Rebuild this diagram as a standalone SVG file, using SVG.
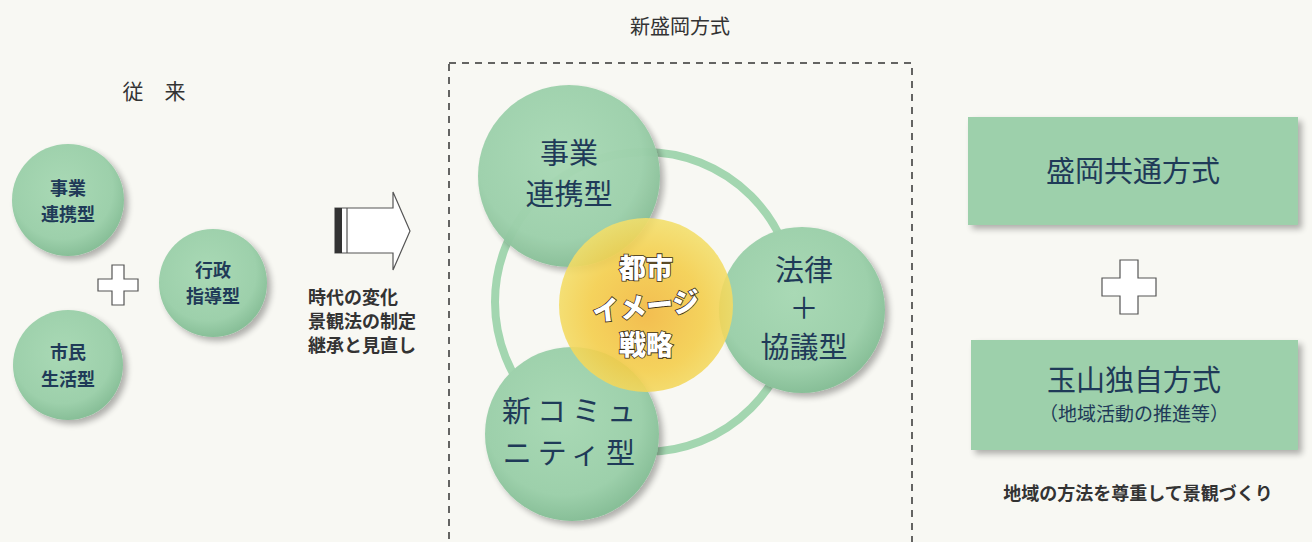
<svg xmlns="http://www.w3.org/2000/svg" width="1312" height="542" viewBox="0 0 1312 542">
<defs>
<radialGradient id="gc" cx="0.45" cy="0.4" r="0.6">
<stop offset="0" stop-color="#a9d9b5"/>
<stop offset="0.75" stop-color="#9dd0ab"/>
<stop offset="1" stop-color="#88bf98"/>
</radialGradient>
<radialGradient id="gy" cx="0.5" cy="0.55" r="0.55">
<stop offset="0" stop-color="#f2b63a"/>
<stop offset="0.6" stop-color="#f4cd48"/>
<stop offset="1" stop-color="#f3df6a"/>
</radialGradient>
<filter id="sh" x="-20%" y="-20%" width="140%" height="140%">
<feGaussianBlur in="SourceAlpha" stdDeviation="3"/>
<feOffset dx="4" dy="4" result="b"/>
<feComponentTransfer><feFuncA type="linear" slope="0.3"/></feComponentTransfer>
<feMerge><feMergeNode/><feMergeNode in="SourceGraphic"/></feMerge>
</filter>
</defs>
<style>
.t{font-family:"Noto Sans CJK JP","Noto Sans CJK SC",sans-serif;fill:#1f3a58;text-anchor:middle}
.s{font-weight:bold;font-size:18px}
.b{font-size:29px}
.c{fill:url(#gc)}
.plus{fill:#fff;stroke:#555;stroke-width:1.2}
</style>
<rect width="1312" height="542" fill="#f8f8f3"/>
<text class="t" x="154" y="99" font-size="21" style="fill:#333">従　来</text>
<text class="t" x="680" y="34" font-size="20" style="fill:#333">新盛岡方式</text>

<g id="old-jigyo"><circle class="c" cx="68" cy="200" r="56" filter="url(#sh)"/>
<text class="t s" x="68" y="195">事業</text><text class="t s" x="68" y="221">連携型</text></g>
<g id="old-gyosei"><circle class="c" cx="213" cy="283" r="54" filter="url(#sh)"/>
<text class="t s" x="213" y="277">行政</text><text class="t s" x="213" y="303">指導型</text></g>
<g id="old-shimin"><circle class="c" cx="68" cy="365" r="55" filter="url(#sh)"/>
<text class="t s" x="68" y="359">市民</text><text class="t s" x="68" y="386">生活型</text></g>
<path class="plus" d="M112,265 h12 v14 h14 v12 h-14 v14 h-12 v-14 h-14 v-12 h14 z"/>

<g id="arrow">
<path d="M335,208 H393 V192 L410,231 L393,270 V253 H335 Z" fill="#fff" stroke="#555" stroke-width="1.2"/>
<rect x="335" y="208" width="7" height="45" fill="#333"/>
<line x1="347" y1="208" x2="347" y2="253" stroke="#555" stroke-width="1.2"/>
</g>
<g id="change-text" font-family="'Noto Sans CJK JP',sans-serif" font-size="18" font-weight="bold" fill="#333">
<text x="308" y="304">時代の変化</text>
<text x="308" y="328">景観法の制定</text>
<text x="308" y="352">継承と見直し</text>
</g>

<rect x="449" y="63" width="463" height="490" fill="none" stroke="#333" stroke-width="1.5" stroke-dasharray="7,6"/>

<g id="connectors"><circle cx="645" cy="302" r="150" fill="none" stroke="#a3d6b0" stroke-width="8"/></g>

<g id="new-jigyo"><circle class="c" cx="569" cy="176" r="91" opacity="0.97" filter="url(#sh)"/>
<text class="t b" x="569" y="164">事業</text><text class="t b" x="569" y="205">連携型</text></g>
<g id="new-horitsu"><circle class="c" cx="802" cy="310" r="83" filter="url(#sh)"/>
<text class="t b" x="804" y="281">法律</text><text class="t b" x="804" y="319">＋</text><text class="t b" x="804" y="358">協議型</text></g>
<g id="new-community"><circle class="c" cx="572" cy="434" r="87" filter="url(#sh)"/>
<text class="t b" x="572" y="422" letter-spacing="6">新コミュ</text><text class="t b" x="572" y="464" letter-spacing="6">ニティ型</text></g>
<g id="center"><circle cx="646" cy="305" r="87" fill="url(#gy)" opacity="0.88"/>
<g font-family="'Noto Sans CJK JP',sans-serif" font-size="27" font-weight="900" fill="#fff" stroke="#3a2e1a" stroke-width="1.6" text-anchor="middle" paint-order="stroke">
<text x="646" y="278">都市</text><text x="646" y="316" transform="rotate(-6 646 306)">イメージ</text><text x="646" y="355">戦略</text></g></g>

<g id="box-morioka"><rect x="968" y="117" width="330" height="108" fill="#9dd0ab" filter="url(#sh)"/>
<text class="t b" x="1133" y="182">盛岡共通方式</text></g>
<path class="plus" d="M1120,260 h18 v18 h18 v18 h-18 v18 h-18 v-18 h-18 v-18 h18 z"/>
<g id="box-tamayama"><rect x="971" y="340" width="327" height="110" fill="#9dd0ab" filter="url(#sh)"/>
<text class="t b" x="1134" y="391">玉山独自方式</text><text class="t" x="1134" y="421" font-size="19">（地域活動の推進等）</text></g>
<text x="1138" y="500" font-family="'Noto Sans CJK JP',sans-serif" font-size="18" font-weight="bold" fill="#333" text-anchor="middle">地域の方法を尊重して景観づくり</text>
</svg>
